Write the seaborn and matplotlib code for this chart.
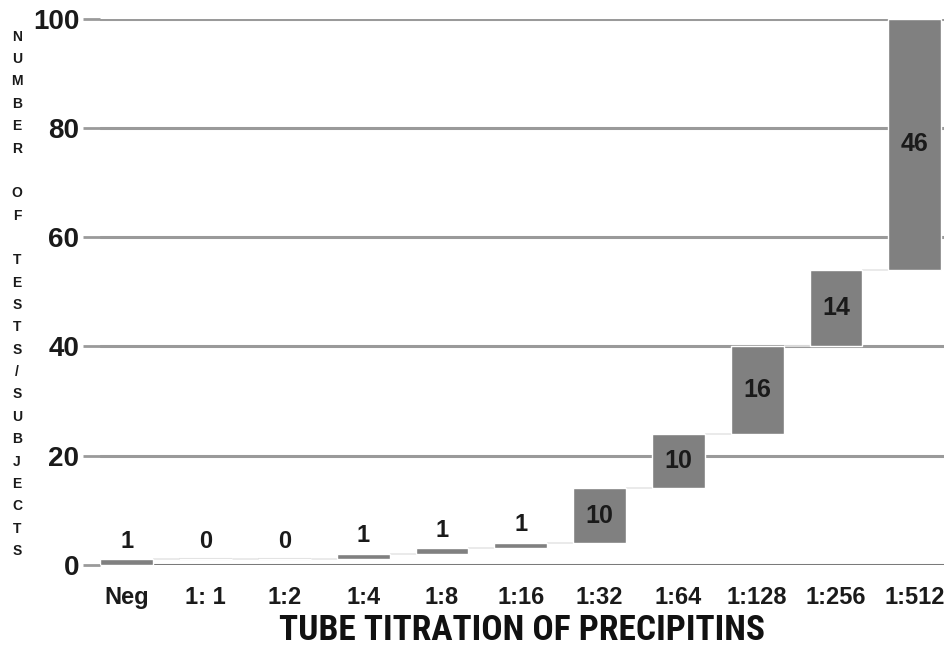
import matplotlib
matplotlib.use("Agg")
import matplotlib.pyplot as plt
import seaborn as sns
import numpy as np
import pandas as pd

categories = ["Neg", "1: 1", "1:2", "1:4", "1:8", "1:16", "1:32", "1:64", "1:128", "1:256", "1:512"]
counts = [1, 0, 0, 1, 1, 1, 10, 10, 16, 14, 46]
y_ticks = [0, 20, 40, 60, 80, 100]

sns.set_theme(style="white")
plt.rcParams['font.family'] = ['Liberation Sans', 'DejaVu Sans']

bottoms = np.concatenate([[0], np.cumsum(counts)[:-1]])
df = pd.DataFrame({"cat": categories, "count": counts})

fig = plt.figure(figsize=(9.44, 6.53), dpi=100)
ax = fig.add_axes([0.106, 0.135, 0.894, 0.836])

for y in y_ticks:
    ax.axhline(y, color="#9a9a9a" if y else "#7a7a7a", lw=2.2, zorder=0)

bw = 0.67
pos = np.arange(len(categories))
tops = bottoms + np.array(counts)
for i in range(len(categories) - 1):
    ax.hlines(tops[i], pos[i] + bw / 2, pos[i + 1] - bw / 2, color="#e6e6e6", lw=1.2, zorder=1)
for i, c in enumerate(counts):
    if c == 0:
        ax.hlines(tops[i], pos[i] - bw / 2, pos[i] + bw / 2, color="#dddddd", lw=1.5, zorder=1)

sns.barplot(data=df, x="cat", y="count", order=categories, color="#808080",
            saturation=1, width=bw, bottom=bottoms, ax=ax, zorder=2)

for i, c in enumerate(counts):
    if c >= 5:
        ax.text(pos[i], bottoms[i] + c / 2, str(c), ha="center", va="center",
                fontsize=18, fontweight="bold", color="#1a1a1a", zorder=3)
    else:
        ax.text(pos[i], tops[i] + 1.2, str(c), ha="center", va="bottom",
                fontsize=17, fontweight="bold", color="#1a1a1a", zorder=3)

ax.set_xlim(-0.34, 10.37)
ax.set_ylim(0, 100)
ax.set_yticks(y_ticks)
ax.set_yticklabels([str(v) for v in y_ticks], fontsize=20, fontweight="bold", color="#1a1a1a")
ax.set_xticks(pos)
ax.set_xticklabels(categories, fontsize=17, fontweight="bold", color="#1a1a1a")
ax.tick_params(axis="y", left=True, length=12, width=2, color="#9a9a9a", pad=3)
ax.tick_params(axis="x", length=0, pad=15)
for s in ax.spines.values():
    s.set_visible(False)
ax.set_xlabel("TUBE TITRATION OF PRECIPITINS", fontsize=25.5, fontweight="bold",
              color="#111111", labelpad=4,
              family=['Roboto Condensed', 'Liberation Sans Narrow', 'DejaVu Sans'])
ax.set_ylabel("")

ylab = "\n".join(list("NUMBER")) + "\n\n" + "\n".join(list("OF")) + "\n\n" + "\n".join(list("TESTS/SUBJECTS"))
fig.text(0.018, 0.55, ylab, ha="center", va="center", fontsize=10, fontweight="bold",
         color="#1a1a1a", linespacing=1.76)

fig.savefig("out.png", dpi=100)
